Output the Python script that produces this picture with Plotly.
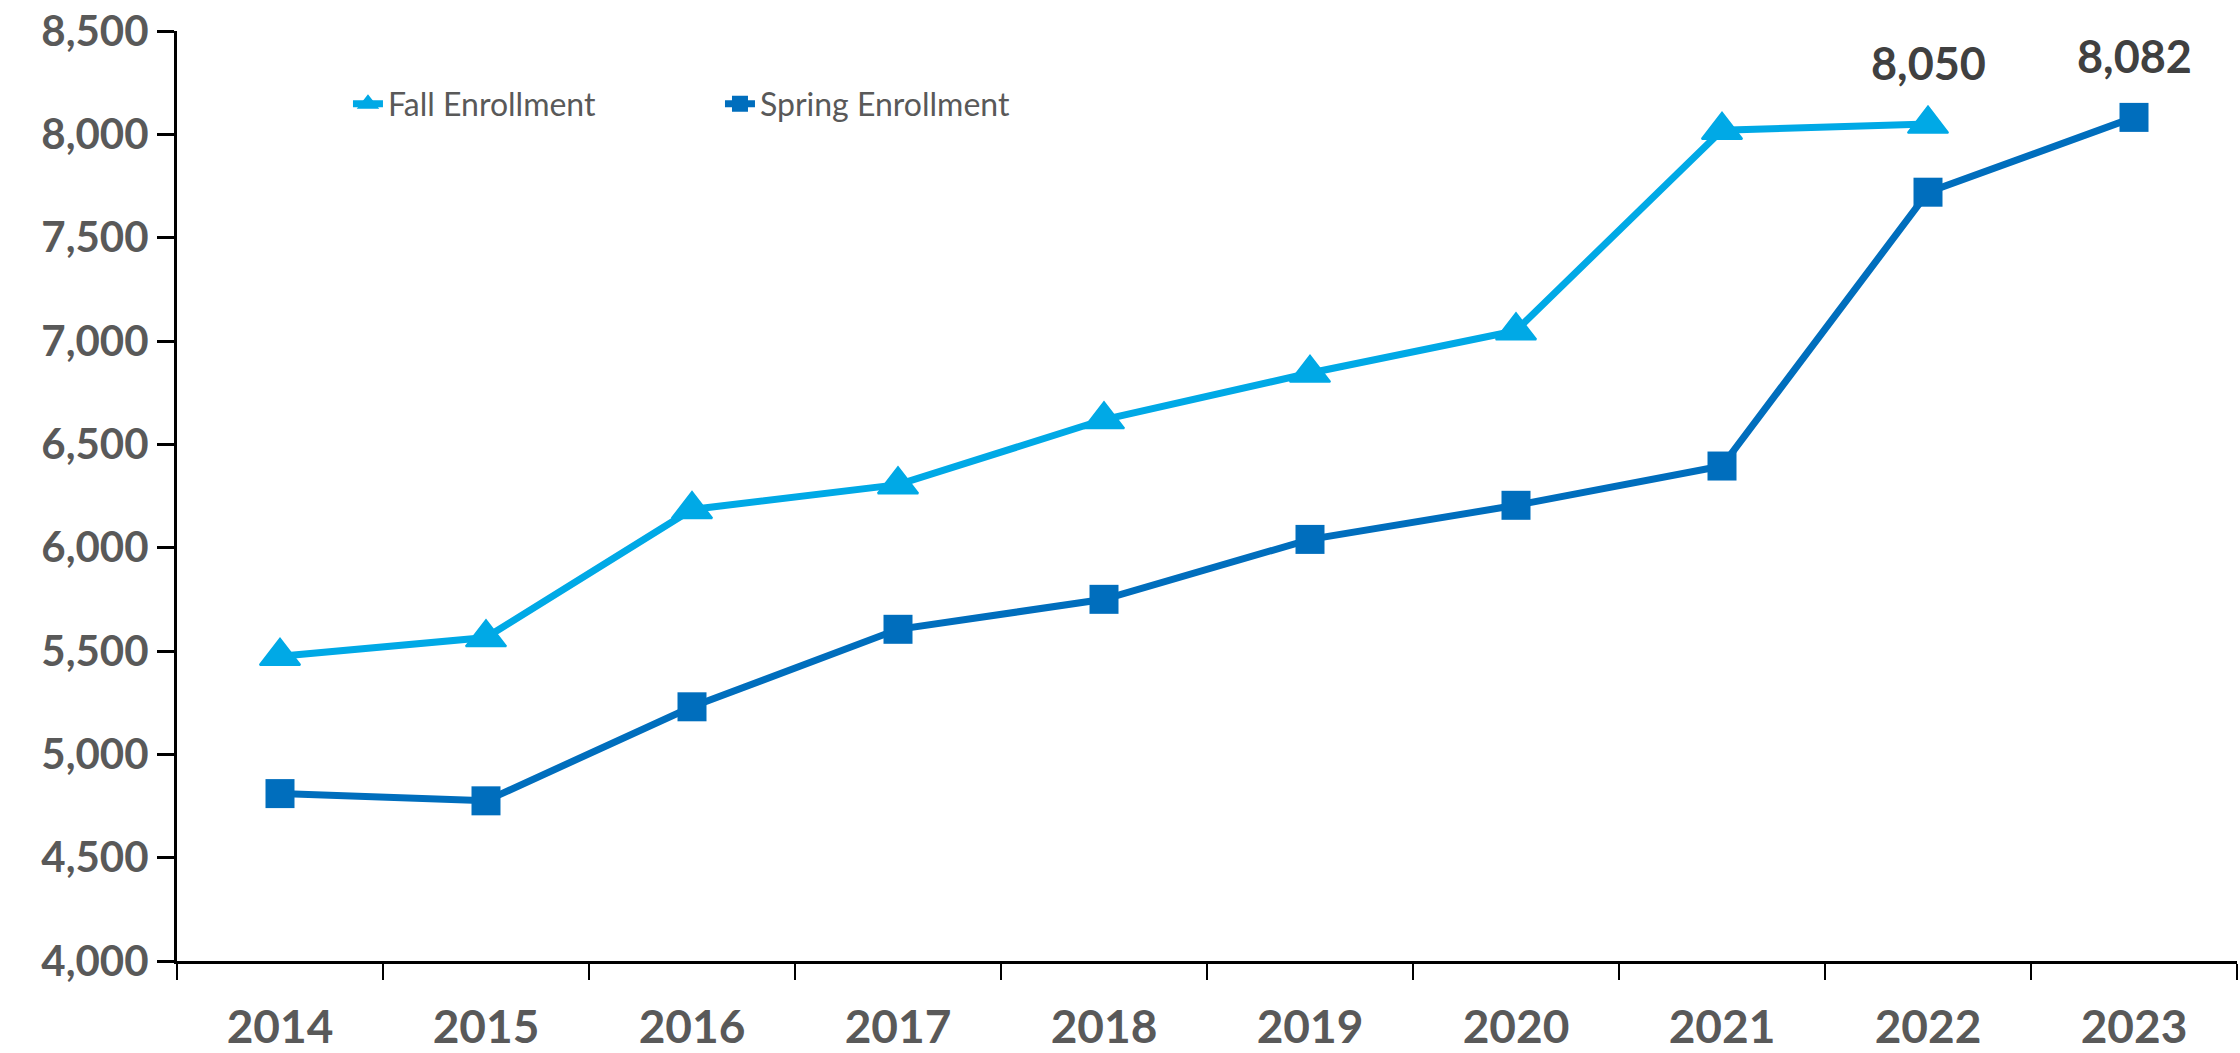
import plotly.graph_objects as go

years = ["2014", "2015", "2016", "2017", "2018", "2019", "2020", "2021", "2022", "2023"]
fall = [5475, 5565, 6185, 6305, 6620, 6845, 7050, 8020, 8050, None]
spring = [4810, 4775, 5230, 5605, 5750, 6040, 6205, 6395, 7720, 8082]
y_ticks = [4000, 4500, 5000, 5500, 6000, 6500, 7000, 7500, 8000, 8500]

FALL_C = "#00A9E6"
SPRING_C = "#006EBD"
FONT = "Lato, Open Sans, sans-serif"

fig = go.Figure()
fig.add_trace(go.Scatter(
    x=years, y=fall, name="Fall Enrollment", mode="lines+markers",
    line=dict(color=FALL_C, width=7),
    marker=dict(symbol="triangle-up", size=35, color=FALL_C,
                line=dict(color=FALL_C, width=2)),
))
fig.add_trace(go.Scatter(
    x=years, y=spring, name="Spring Enrollment", mode="lines+markers",
    line=dict(color=SPRING_C, width=7),
    marker=dict(symbol="square", size=29, color=SPRING_C),
))

# data labels on the last point of each series (x given as category index)
last_fall_i = max(i for i, v in enumerate(fall) if v is not None)
last_spring_i = len(spring) - 1
for xi, yv in [(last_fall_i, fall[last_fall_i]), (last_spring_i, spring[last_spring_i])]:
    fig.add_annotation(x=xi, y=yv, xref="x", yref="y", text=f"<b>{yv:,}</b>", showarrow=False,
                       yshift=61, font=dict(family=FONT, size=45, color="#404040"))

fig.update_layout(
    width=2240, height=1053,
    margin=dict(l=177, r=3, t=31, b=92, autoexpand=False),
    paper_bgcolor="white", plot_bgcolor="white",
    showlegend=True,
    legend=dict(orientation="h", x=0.083, y=0.9215, xanchor="left", yanchor="middle",
                font=dict(family=FONT, size=32, color="#595959"),
                bgcolor="rgba(0,0,0,0)", entrywidth=327),
    font=dict(family=FONT),
)
fig.update_xaxes(
    type="category", categoryorder="array", categoryarray=years,
    range=[-0.5, len(years) - 0.5], tickangle=0,
    showline=True, linecolor="black", linewidth=3,
    ticks="outside", tickson="boundaries", ticklen=16, tickwidth=2, tickcolor="black",
    showgrid=False, zeroline=False, ticklabelstandoff=24,
    tickfont=dict(family=FONT, size=46, color="#595959"),
    tickprefix="<b>", ticksuffix="</b>",
)
fig.update_yaxes(
    range=[4000, 8500], tickvals=y_ticks, ticktext=[f"<b>{v:,}</b>" for v in y_ticks],
    showline=True, linecolor="black", linewidth=3,
    ticks="outside", ticklen=17, tickwidth=3, tickcolor="black",
    showgrid=False, zeroline=False,
    tickfont=dict(family=FONT, size=42, color="#595959"),
)

fig.write_html("out.html", config={"displayModeBar": False},
               post_script="document.body.style.margin='0';")
